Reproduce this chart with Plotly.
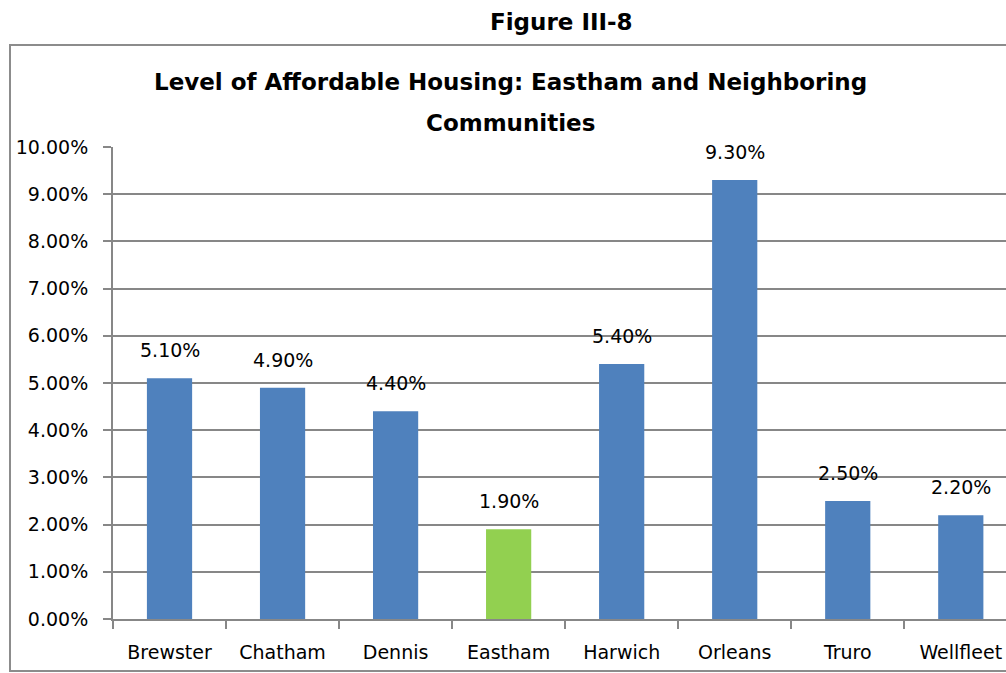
import plotly.graph_objects as go

categories = ["Brewster", "Chatham", "Dennis", "Eastham", "Harwich", "Orleans", "Truro", "Wellfleet"]
values = [5.10, 4.90, 4.40, 1.90, 5.40, 9.30, 2.50, 2.20]
colors = ["#4F81BD", "#4F81BD", "#4F81BD", "#92D050", "#4F81BD", "#4F81BD", "#4F81BD", "#4F81BD"]
ytick_vals = [0, 1, 2, 3, 4, 5, 6, 7, 8, 9, 10]
ytick_text = [f"{v:.2f}%" for v in ytick_vals]

FONT = "DejaVu Sans"
FS = 19

fig = go.Figure()
fig.add_trace(go.Bar(x=categories, y=values, marker_color=colors, marker_line_width=0))

for c, v in zip(categories, values):
    fig.add_annotation(x=c, y=v, text=f"{v:.2f}%", showarrow=False, yshift=28,
                       font=dict(family=FONT, size=FS, color="#000"))

# plot area in page px: x 113..1006, y 147..619 (893 x 472)
def px(x):
    return (x - 113) / 893

def py(y):
    return (619 - y) / 472

fig.add_annotation(xref="paper", yref="paper", x=px(510), y=py(82),
                   text="<b>Level of Affordable Housing: Eastham and Neighboring</b>",
                   showarrow=False, font=dict(family=FONT, size=23, color="#000"),
                   xanchor="center", yanchor="middle")
fig.add_annotation(xref="paper", yref="paper", x=px(510), y=py(123), text="<b>Communities</b>",
                   showarrow=False, font=dict(family=FONT, size=23, color="#000"),
                   xanchor="center", yanchor="middle")
fig.add_annotation(xref="paper", yref="paper", x=px(561), y=py(22), text="<b>Figure III-8</b>",
                   showarrow=False, font=dict(family=FONT, size=23, color="#000"),
                   xanchor="center", yanchor="middle")

fig.add_shape(type="rect", xref="paper", yref="paper", x0=px(10), x1=px(1040), y0=py(671), y1=py(45),
              line=dict(color="#8c8c8c", width=2), layer="below")

fig.update_layout(
    width=1006, height=673,
    margin=dict(l=113, r=0, t=147, b=54),
    paper_bgcolor="white", plot_bgcolor="white",
    showlegend=False, bargap=0.60,
    font=dict(family=FONT, size=FS, color="#000"),
)
fig.update_xaxes(range=[-0.5, 7.40], tickson="boundaries", ticks="outside", ticklen=8, tickwidth=2,
                 tickcolor="#878787", showline=True, linecolor="#878787", linewidth=2,
                 showgrid=False, tickfont=dict(family=FONT, size=FS, color="#000"),
                 ticklabelstandoff=15)
fig.update_yaxes(range=[0, 10], tickvals=ytick_vals, ticktext=ytick_text, ticks="outside", ticklen=8,
                 tickwidth=2, tickcolor="#878787", showline=True, linecolor="#878787", linewidth=2,
                 showgrid=True, gridcolor="#878787", gridwidth=2, zeroline=False,
                 tickfont=dict(family=FONT, size=FS, color="#000"), ticklabelstandoff=11)

fig.write_html("out.html", config={"displayModeBar": False},
               post_script="document.body.style.margin='0';document.body.style.overflow='hidden';")
